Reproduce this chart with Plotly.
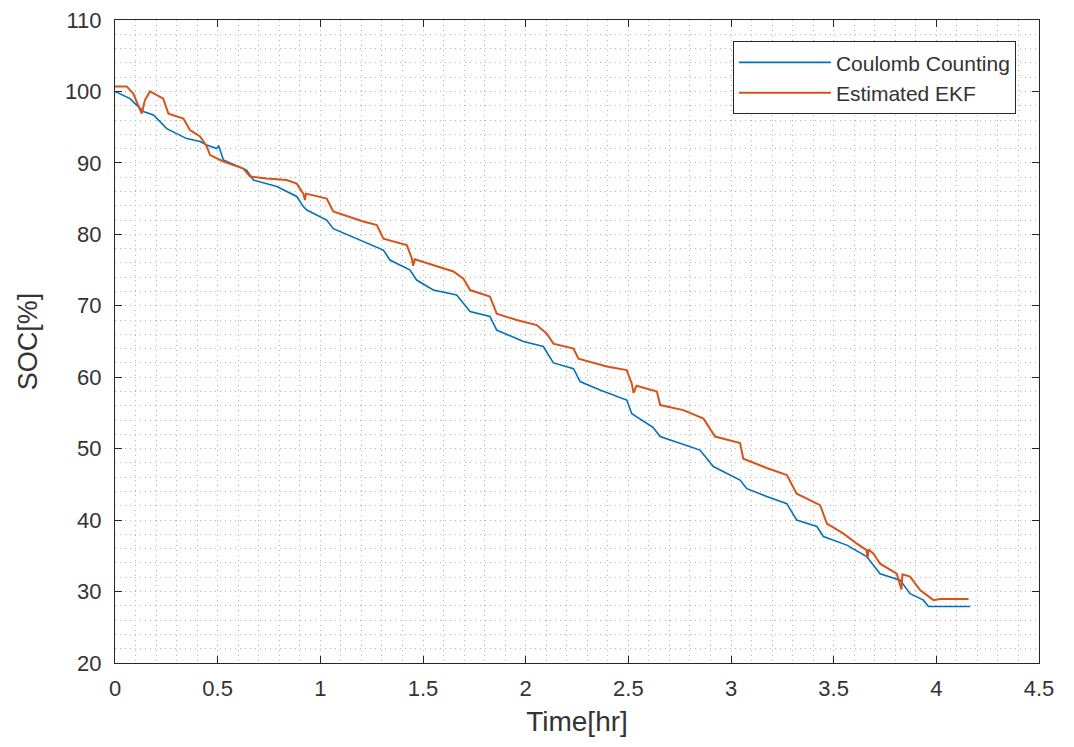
import plotly.graph_objects as go

# Coulomb Counting (blue)
cc_t = [0.0, 0.073, 0.138, 0.187, 0.252, 0.349, 0.414, 0.447, 0.495, 0.505, 0.528, 0.641, 0.674,
        0.788, 0.885, 0.917, 0.934, 1.031, 1.063, 1.193, 1.307, 1.339, 1.437, 1.469, 1.550,
        1.664, 1.729, 1.826, 1.859, 1.989, 2.086, 2.135, 2.233, 2.265, 2.362, 2.492, 2.517,
        2.620, 2.655, 2.849, 2.914, 3.044, 3.077, 3.174, 3.272, 3.320, 3.418, 3.450, 3.564,
        3.661, 3.726, 3.824, 3.872, 3.937, 3.962, 4.165]
cc_soc = [100.0, 99.0, 97.2, 96.7, 94.8, 93.4, 93.0, 92.5, 92.0, 92.4, 90.4, 89.0, 87.6,
          86.7, 85.3, 83.9, 83.4, 82.0, 80.8, 79.2, 77.8, 76.4, 75.0, 73.6, 72.2,
          71.5, 69.2, 68.5, 66.6, 65.0, 64.3, 62.0, 61.2, 59.4, 58.2, 56.8, 54.9,
          53.0, 51.7, 49.8, 47.5, 45.6, 44.4, 43.3, 42.3, 40.0, 39.1, 37.7, 36.5,
          34.9, 32.5, 31.6, 29.7, 28.8, 27.9, 27.9]

# Estimated EKF (orange)
ekf_t = [0.0, 0.057, 0.089, 0.13, 0.146, 0.17, 0.235, 0.26, 0.333, 0.365, 0.414, 0.447, 0.463,
         0.528, 0.625, 0.658, 0.739, 0.836, 0.885, 0.917, 0.925, 0.93, 1.031, 1.063, 1.209,
         1.275, 1.307, 1.421, 1.445, 1.452, 1.46, 1.550, 1.648, 1.697, 1.729, 1.826, 1.859,
         1.956, 2.054, 2.103, 2.135, 2.233, 2.257, 2.395, 2.492, 2.517, 2.525, 2.54, 2.639,
         2.655, 2.768, 2.866, 2.922, 3.044, 3.060, 3.174, 3.272, 3.320, 3.434, 3.467, 3.548,
         3.613, 3.66, 3.665, 3.67, 3.694, 3.726, 3.807, 3.83, 3.835, 3.872, 3.921, 3.986,
         4.018, 4.157]
ekf_soc = [100.7, 100.7, 99.7, 96.9, 98.8, 100.0, 99.0, 96.9, 96.2, 94.6, 93.7, 92.3, 91.1,
           90.2, 89.2, 88.1, 87.8, 87.6, 87.1, 85.7, 84.8, 85.7, 85.0, 83.2, 81.8,
           81.3, 79.4, 78.5, 76.7, 75.6, 76.5, 75.7, 74.8, 73.8, 72.2, 71.3, 68.9,
           68.0, 67.3, 66.1, 64.7, 64.0, 62.6, 61.5, 61.0, 59.1, 57.8, 58.8, 58.0,
           56.1, 55.4, 54.2, 51.7, 50.8, 48.6, 47.3, 46.3, 43.7, 42.1, 39.5, 38.1,
           36.7, 35.8, 34.6, 35.9, 35.3, 33.9, 32.5, 30.3, 32.4, 32.1, 30.2, 28.8,
           28.95, 28.95]

x_ticks = [0, 0.5, 1, 1.5, 2, 2.5, 3, 3.5, 4, 4.5]
x_labels = ["0", "0.5", "1", "1.5", "2", "2.5", "3", "3.5", "4", "4.5"]
y_ticks = [20, 30, 40, 50, 60, 70, 80, 90, 100, 110]

FONT = "Liberation Sans, Arial, sans-serif"
AX = "#262626"
GRID = "#b4b4b4"

fig = go.Figure()
fig.add_trace(go.Scatter(x=cc_t, y=cc_soc, mode="lines", name="Coulomb Counting",
                         line=dict(color="#0072BD", width=1.6)))
fig.add_trace(go.Scatter(x=ekf_t, y=ekf_soc, mode="lines", name="Estimated EKF",
                         line=dict(color="#D95319", width=2.0)))

axis_common = dict(
    showline=True, linecolor=AX, linewidth=1, mirror="ticks",
    ticks="inside", ticklen=7, tickcolor=AX, tickwidth=1,
    showgrid=True, gridcolor=GRID, gridwidth=1, griddash="1px,4px",
    zeroline=False, ticklabeloverflow="allow", automargin=False,
    tickfont=dict(family=FONT, size=22, color="#333333"),
)

fig.update_xaxes(range=[0, 4.5], tickvals=x_ticks, ticktext=x_labels,
                 ticklabelstandoff=6,
                 minor=dict(dtick=0.1, tick0=0, showgrid=True, gridcolor=GRID,
                            griddash="1px,4px", ticks=""),
                 title=dict(text="Time[hr]", font=dict(family=FONT, size=28, color="#333333"), standoff=10),
                 **axis_common)
fig.update_yaxes(range=[20, 110], tickvals=y_ticks,
                 ticklabelstandoff=8,
                 minor=dict(dtick=2, tick0=20, showgrid=True, gridcolor=GRID,
                            griddash="1px,4px", ticks=""),
                 title=dict(text="SOC[%]", font=dict(family=FONT, size=27, color="#333333"), standoff=19),
                 **axis_common)

fig.update_layout(
    width=1066, height=739,
    margin=dict(l=107, r=35, t=12, b=84),
    paper_bgcolor="white", plot_bgcolor="white",
    showlegend=True,
    legend=dict(x=0.975, y=0.967, xanchor="right", yanchor="top",
                bgcolor="white", bordercolor=AX, borderwidth=1,
                font=dict(family=FONT, size=21, color="#333333"),
                itemwidth=92, tracegroupgap=0),
)

fig.write_html("out.html")
